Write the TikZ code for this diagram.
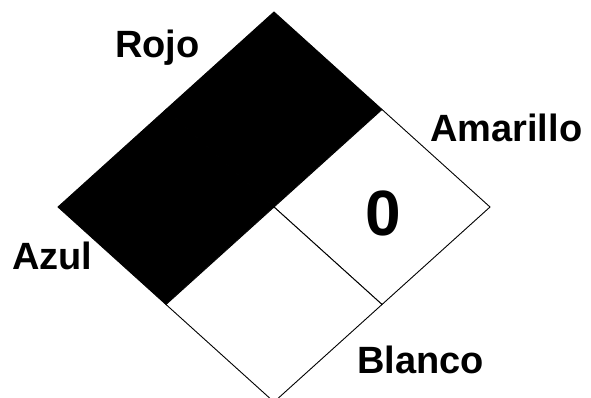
\documentclass[tikz,border=0pt]{standalone}
\usepackage{fontspec}
\setmainfont{Liberation Sans}
\usetikzlibrary{positioning}

\begin{document}
\begin{tikzpicture}[x=1pt, y=-1pt,
          lbl/.style={font=\fontsize{38}{40}\selectfont\bfseries, inner sep=0pt},
          quad/.style={draw, line width=0.9pt, line join=miter}]
        \useasboundingbox (0,0) rectangle (591,398);
        % corners of the diamond, mid points of its edges, centre
        \coordinate (t)  at (274,12);
        \coordinate (r)  at (490,207);
        \coordinate (b)  at (274,402);
        \coordinate (l)  at (58,207);
        \coordinate (c)  at (274,207);
        \coordinate (tl) at (166,109.5);
        \coordinate (tr) at (382,109.5);
        \coordinate (br) at (382,304.5);
        \coordinate (bl) at (166,304.5);

        \filldraw[quad, fill=black] (t) -- (tr) -- (c) -- (tl) -- cycle;
        \filldraw[quad, fill=black] (tl) -- (c) -- (bl) -- (l) -- cycle;
        \filldraw[quad, fill=white] (tr) -- (r) -- (br) -- (c) -- cycle;
        \filldraw[quad, fill=white] (c) -- (br) -- (b) -- (bl) -- cycle;

        \node[font=\fontsize{64}{66}\selectfont\bfseries, inner sep=0pt,
              anchor=base] (num) at (383,235) {0};

        \node[lbl, anchor=base west] (rojo)     at (115,58)  {Rojo};
        \node[lbl, anchor=base west] (amarillo) at (430,142) {Amarillo};
        \node[lbl, anchor=base west] (azul)     at (12,269)  {Azul};
        \node[lbl, anchor=base west] (blanco)   at (357,373) {Blanco};
      \end{tikzpicture}
\end{document}
